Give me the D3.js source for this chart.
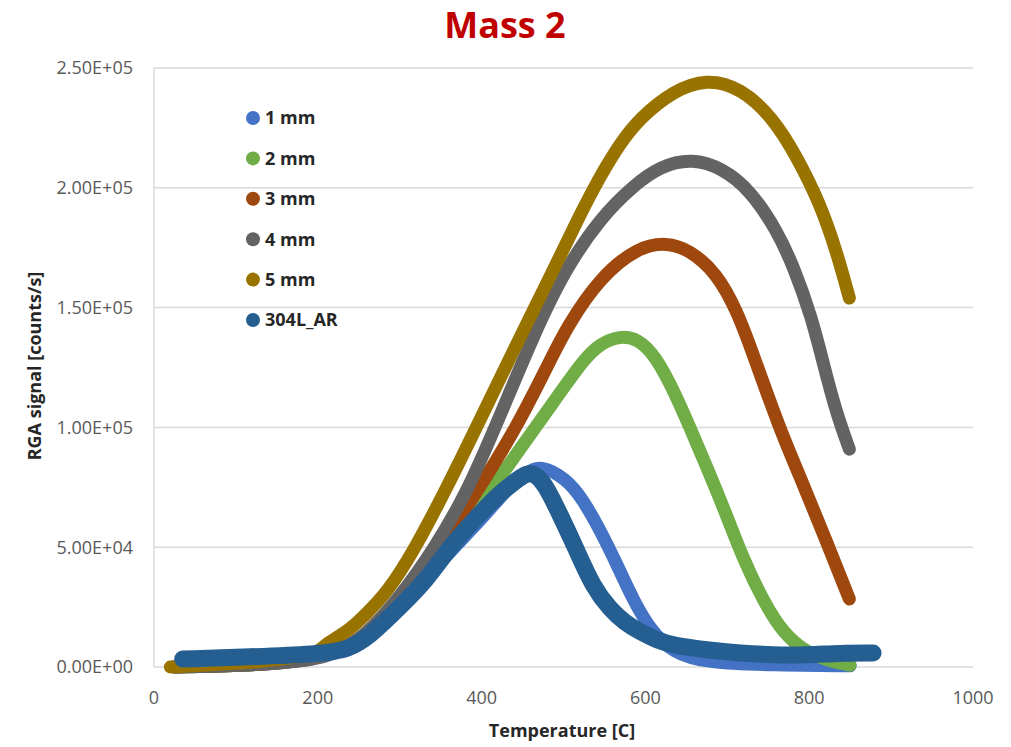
<!DOCTYPE html>
<html lang="en">
<head>
    <meta charset="UTF-8">
    <title>Mass 2</title>
    <script src="https://d3js.org/d3.v7.min.js"></script>
    <style>
        body {
            margin: 0;
            background: #ffffff;
        }
        svg {
            font-family: "Open Sans", Arial, sans-serif;
        }
        .tick-label {
            font-size: 18px;
            fill: #595959;
        }
        .axis-title {
            font-size: 18px;
            font-weight: bold;
            fill: #262626;
        }
        .legend {
            font-size: 18px;
            font-weight: bold;
            fill: #262626;
        }
    </style>
</head>
<body>
    <div id="chart"></div>
    <script>
        // series names and colours
        const seriesNames = ["1 mm", "2 mm", "3 mm", "4 mm", "5 mm", "304L_AR"];
        const seriesColors = ["#4472C4", "#70AD47", "#9E480E", "#636363", "#997300", "#255E91"];

        // values: temperature [C] and RGA signal [counts/s]
        const temp1mm = [25, 100, 200, 250, 300, 350, 407, 430, 455, 471, 504, 524, 545, 565, 585, 606, 634, 675, 756, 850];
        const sig1mm  = [0, 500, 2500, 9000, 25000, 44000, 64300, 74000, 81000, 84500, 78500, 69700, 57000, 43000, 28000, 15500, 5800, 1700, 800, 500];

        const temp2mm = [25, 100, 200, 250, 300, 350, 400, 422, 447, 487, 526, 545, 569, 591, 612, 636, 654, 675, 700, 719, 744, 768, 797, 829, 850];
        const sig2mm  = [0, 500, 2500, 10000, 26000, 46000, 68000, 79000, 91000, 110200, 129000, 135000, 138200, 137000, 130000, 114400, 100200, 83500, 62600, 45500, 27500, 14200, 5800, 2100, 800];

        const temp3mm = [25, 100, 200, 250, 300, 325, 358, 398, 443, 481, 504, 545, 591, 626, 654, 687, 712, 730, 763, 789, 817, 849];
        const sig3mm  = [0, 500, 2500, 10000, 27000, 37600, 54300, 75100, 100200, 126000, 142000, 162800, 175300, 177200, 174100, 164500, 148500, 132000, 100200, 79300, 55900, 28400];

        const temp4mm = [25, 100, 200, 250, 300, 341, 382, 422, 464, 502, 546, 585, 618, 657, 695, 728, 761, 781, 803, 817, 832, 849];
        const sig4mm  = [0, 500, 2500, 10000, 29000, 48800, 72600, 104400, 139000, 166000, 187800, 200800, 209000, 212300, 208000, 199000, 182000, 167000, 146000, 127000, 107300, 90900];

        const temp5mm = [20, 117, 178, 198, 211, 239, 260, 284, 316, 358, 398, 438, 480, 520, 545, 569, 593, 634, 675, 716, 756, 785, 813, 834, 849];
        const sig5mm  = [0, 1700, 4200, 5500, 10000, 15400, 22500, 30900, 47600, 75100, 103100, 131500, 160300, 188700, 205000, 218500, 229000, 240500, 245500, 241800, 229200, 212900, 193700, 172800, 154000];

        const temp304 = [35, 117, 199, 239, 267, 280, 300, 333, 361, 394, 422, 443, 455, 466, 478, 496, 516, 536, 557, 575, 593, 615, 634, 675, 716, 756, 797, 838, 878];
        const sig304  = [3300, 4200, 5400, 7100, 14200, 18400, 25000, 36300, 50100, 62600, 72600, 78000, 81000, 80500, 76000, 63500, 48800, 33400, 24000, 18500, 14800, 11000, 9000, 7100, 5800, 5000, 5000, 5800, 5800];

        const xTicks = [0, 200, 400, 600, 800, 1000];
        const yTicks = [0, 50000, 100000, 150000, 200000, 250000];

        const temps = [temp1mm, temp2mm, temp3mm, temp4mm, temp5mm, temp304];
        const sigs = [sig1mm, sig2mm, sig3mm, sig4mm, sig5mm, sig304];

        const width = 1011, height = 747;
        const svg = d3.select("#chart").append("svg")
            .attr("width", width)
            .attr("height", height);

        const x = d3.scaleLinear().domain([0, 1000]).range([154, 973]);
        const y = d3.scaleLinear().domain([0, 250000]).range([667, 68]);

        function sci(v) {
            const parts = v.toExponential(2).split("e");
            const e = +parts[1];
            return parts[0] + "E" + (e < 0 ? "-" : "+") + String(Math.abs(e)).padStart(2, "0");
        }

        // horizontal gridlines
        svg.append("g")
            .selectAll("line")
            .data(yTicks)
            .enter().append("line")
            .attr("x1", x(0))
            .attr("x2", x(1000))
            .attr("y1", d => y(d))
            .attr("y2", d => y(d))
            .attr("stroke", "#d9d9d9")
            .attr("stroke-width", 1.5);

        // left axis line
        svg.append("line")
            .attr("x1", x(0)).attr("x2", x(0))
            .attr("y1", y(250000)).attr("y2", y(0))
            .attr("stroke", "#d9d9d9")
            .attr("stroke-width", 1.5);

        svg.append("g")
            .selectAll("text")
            .data(yTicks)
            .enter().append("text")
            .attr("class", "tick-label")
            .attr("x", 133)
            .attr("y", d => y(d))
            .attr("dy", "0.35em")
            .attr("text-anchor", "end")
            .text(sci);

        svg.append("g")
            .selectAll("text")
            .data(xTicks)
            .enter().append("text")
            .attr("class", "tick-label")
            .attr("x", d => x(d))
            .attr("y", 704)
            .attr("text-anchor", "middle")
            .text(d => d);

        // series
        const line = d3.line()
            .x(d => x(d[0]))
            .y(d => y(d[1]))
            .curve(d3.curveBasis);

        seriesNames.forEach((name, i) => {
            const pts = temps[i].map((t, j) => [t, sigs[i][j]]);
            svg.append("path")
                .datum(pts)
                .attr("d", line)
                .attr("fill", "none")
                .attr("stroke", seriesColors[i])
                .attr("stroke-width", i === 5 ? 17 : 13)
                .attr("stroke-linecap", "round")
                .attr("stroke-linejoin", "round");
        });

        // legend
        const legend = svg.selectAll(".legend")
            .data(seriesNames)
            .enter().append("g")
            .attr("class", "legend")
            .attr("transform", (d, i) => `translate(253, ${118 + i * 40.4})`);

        legend.append("circle")
            .attr("r", 7)
            .attr("fill", (d, i) => seriesColors[i]);

        legend.append("text")
            .attr("x", 12)
            .attr("dy", "0.36em")
            .text(d => d);

        // titles
        svg.append("text")
            .attr("x", 505)
            .attr("y", 38)
            .attr("text-anchor", "middle")
            .style("font-size", "36px")
            .style("font-weight", "bold")
            .style("fill", "#C00000")
            .text("Mass 2");

        svg.append("text")
            .attr("class", "axis-title")
            .attr("x", 562)
            .attr("y", 737)
            .attr("text-anchor", "middle")
            .text("Temperature [C]");

        svg.append("text")
            .attr("class", "axis-title")
            .attr("transform", "translate(41,366) rotate(-90)")
            .attr("text-anchor", "middle")
            .text("RGA signal [counts/s]");
    </script>
</body>
</html>
